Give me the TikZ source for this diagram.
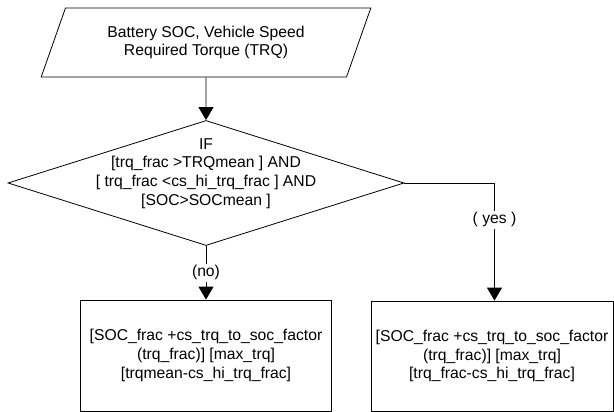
\documentclass[tikz,border=0pt]{standalone}
\usepackage{fontspec}
\setmainfont{Liberation Sans}
\usetikzlibrary{arrows.meta,shapes.geometric}
\begin{document}
\begin{tikzpicture}[x=1pt,y=-1pt,>={Triangle[width=15pt,length=13pt]},line width=0.8pt,
  every node/.style={font=\fontsize{15.7}{18.8}\selectfont,align=center},
  io/.style={draw,trapezium,trapezium left angle=63,trapezium right angle=117,
    trapezium stretches=true,minimum width=330pt,minimum height=69pt,inner sep=0pt},
  decision/.style={draw,diamond,minimum width=396pt,minimum height=125pt,inner sep=0pt},
  block/.style={draw,rectangle,inner sep=0pt},
  lbl/.style={fill=white,inner sep=1.5pt}]
\useasboundingbox (0,0) rectangle (614,412);
\node[io] (input) at (206,42.5) {Battery SOC, Vehicle Speed\\Required Torque (TRQ)};
\node[decision] (cond) at (206,183) {};
\node (condtext) at (206,173.5) {IF\\{}[trq\_frac >TRQmean ] AND\\{}[ trq\_frac <cs\_hi\_trq\_frac ] AND\\{}[SOC>SOCmean ]};
\node[block,minimum width=251pt,minimum height=111pt] (noblock) at (206,355.5)
  {[SOC\_frac +cs\_trq\_to\_soc\_factor\\(trq\_frac)] [max\_trq]\\{}[trqmean-cs\_hi\_trq\_frac]};
\node[block,minimum width=242pt,minimum height=110pt] (yesblock) at (492,356)
  {[SOC\_frac +cs\_trq\_to\_soc\_factor\\(trq\_frac)] [max\_trq]\\{}[trq\_frac-cs\_hi\_trq\_frac]};
% connectors
\draw[->] (input) -- (cond);
\draw[->] (cond.south) -- node[lbl]{(no)} (noblock.north);
\draw[->] (cond.east) -| node[lbl,pos=0.657]{( yes )} ([xshift=2.5pt]yesblock.north);
\end{tikzpicture}
\end{document}
